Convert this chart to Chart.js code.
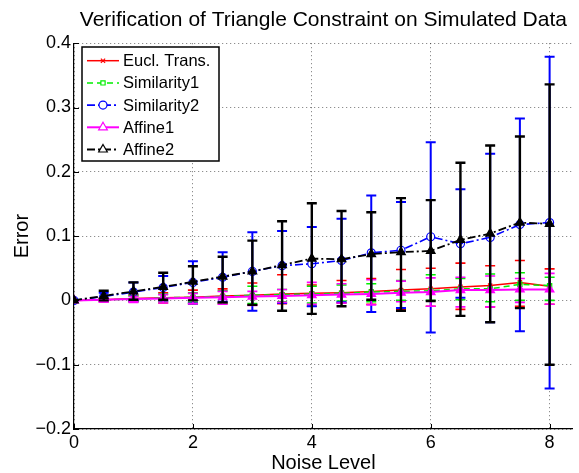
<!DOCTYPE html>
<html>
<head>
<meta charset="utf-8">
<script src="https://cdn.jsdelivr.net/npm/chart.js@4/dist/chart.umd.min.js"></script>
<style>
  html, body { margin: 0; padding: 0; background: #fff; }
</style>
</head>
<body>
<canvas id="chart" width="579" height="473"></canvas>
<script>
// Noise levels on the x axis
const noiseLevels = [0, 0.5, 1, 1.5, 2, 2.5, 3, 3.5, 4, 4.5, 5, 5.5, 6, 6.5, 7, 7.5, 8];

// Eucl. Trans. (mean, lower end of bar, upper end of bar)
const euclMean = [0, 0.001, 0.003, 0.004, 0.005, 0.007, 0.008, 0.010, 0.011, 0.012, 0.014, 0.016, 0.018, 0.021, 0.023, 0.028, 0.022];
const euclLow  = [0, -0.002, -0.002, -0.004, -0.005, -0.005, -0.007, -0.005, -0.009, -0.004, -0.006, -0.014, -0.009, -0.014, -0.010, -0.009, -0.006];
const euclHigh = [0, 0.004, 0.008, 0.012, 0.016, 0.018, 0.027, 0.040, 0.024, 0.031, 0.034, 0.048, 0.050, 0.058, 0.054, 0.062, 0.049];

// Similarity1
const sim1Mean = [0, 0.001, 0.002, 0.004, 0.005, 0.006, 0.008, 0.009, 0.010, 0.011, 0.013, 0.014, 0.015, 0.018, 0.018, 0.025, 0.023];
const sim1Low  = [0, -0.001, -0.002, -0.002, -0.003, -0.004, -0.005, -0.002, -0.004, -0.001, -0.002, 0.000, 0.000, 0.001, -0.002, 0.000, 0.000];
const sim1High = [0, 0.003, 0.007, 0.010, 0.012, 0.015, 0.022, 0.017, 0.022, 0.024, 0.026, 0.031, 0.040, 0.034, 0.041, 0.043, 0.036];

// Similarity2
const sim2Mean = [0, 0.006, 0.013, 0.020, 0.028, 0.036, 0.045, 0.054, 0.057, 0.062, 0.074, 0.078, 0.099, 0.088, 0.098, 0.118, 0.121];
const sim2Low  = [0, 0.000, -0.001, 0.000, -0.005, -0.002, -0.016, -0.004, -0.009, -0.003, -0.018, -0.012, -0.050, 0.004, -0.034, -0.048, -0.137];
const sim2High = [0, 0.012, 0.028, 0.038, 0.061, 0.075, 0.106, 0.108, 0.114, 0.127, 0.163, 0.153, 0.246, 0.173, 0.228, 0.283, 0.379];

// Affine1
const aff1Mean = [0, 0.001, 0.002, 0.003, 0.004, 0.005, 0.006, 0.007, 0.008, 0.009, 0.010, 0.012, 0.013, 0.016, 0.016, 0.017, 0.017];
const aff1Low  = [0, -0.002, -0.003, -0.004, -0.005, -0.006, -0.008, -0.003, -0.006, -0.004, -0.007, -0.002, -0.009, -0.010, -0.010, -0.003, -0.006];
const aff1High = [0, 0.003, 0.006, 0.009, 0.011, 0.014, 0.014, 0.017, 0.028, 0.026, 0.032, 0.030, 0.035, 0.036, 0.038, 0.034, 0.042];

// Affine2
const aff2Mean = [0, 0.007, 0.014, 0.021, 0.029, 0.037, 0.045, 0.055, 0.065, 0.064, 0.072, 0.075, 0.077, 0.094, 0.104, 0.121, 0.119];
const aff2Low  = [0, 0.000, 0.001, 0.001, 0.000, -0.003, -0.007, -0.016, -0.021, -0.009, 0.001, -0.016, -0.001, -0.024, -0.034, -0.012, -0.100];
const aff2High = [0, 0.015, 0.028, 0.043, 0.053, 0.068, 0.093, 0.123, 0.151, 0.139, 0.137, 0.159, 0.156, 0.214, 0.241, 0.255, 0.336];

const xTickValues = [0, 2, 4, 6, 8];
const yTickValues = [-0.2, -0.1, 0, 0.1, 0.2, 0.3, 0.4];

const FONT = '"Liberation Sans", Arial, Helvetica, sans-serif';
const DASH_DOT = [8, 3, 2, 3];

function points(values) {
    return noiseLevels.map((x, i) => ({x: x, y: values[i]}));
}

// Vertical error bars with caps, drawn just before each series' line
const errorBars = {
    id: 'errorBars',
    beforeDatasetDraw(chart, args) {
        const ds = chart.data.datasets[args.index];
        const y = chart.scales.y;
        const ctx = chart.ctx;
        const cap = 5;
        ctx.save();
        ctx.strokeStyle = ds.borderColor;
        ctx.lineWidth = ds.errWidth;
        ctx.setLineDash([]);
        args.meta.data.forEach((pt, i) => {
            const lo = y.getPixelForValue(ds.errLow[i]);
            const hi = y.getPixelForValue(ds.errHigh[i]);
            if (Math.abs(lo - hi) < 1) return;
            ctx.beginPath();
            ctx.moveTo(pt.x, lo);
            ctx.lineTo(pt.x, hi);
            ctx.moveTo(pt.x - cap, lo);
            ctx.lineTo(pt.x + cap, lo);
            ctx.moveTo(pt.x - cap, hi);
            ctx.lineTo(pt.x + cap, hi);
            ctx.stroke();
        });
        ctx.restore();
    }
};

// MATLAB style inward ticks
const innerTicks = {
    id: 'innerTicks',
    afterDraw(chart) {
        const {ctx, chartArea, scales} = chart;
        ctx.save();
        ctx.strokeStyle = '#000';
        ctx.lineWidth = 1;
        ctx.beginPath();
        yTickValues.forEach(v => {
            const py = Math.round(scales.y.getPixelForValue(v)) + 0.5;
            ctx.moveTo(chartArea.left, py);
            ctx.lineTo(chartArea.left + 5, py);
        });
        xTickValues.forEach(v => {
            const px = Math.round(scales.x.getPixelForValue(v)) + 0.5;
            ctx.moveTo(px, chartArea.bottom);
            ctx.lineTo(px, chartArea.bottom - 5);
        });
        ctx.stroke();
        ctx.restore();
    }
};

// Legend box with line sample and marker, like MATLAB
const legendBox = {
    id: 'legendBox',
    afterDraw(chart) {
        const ctx = chart.ctx;
        const left = 82, top = 47, w = 137, h = 114, rowH = 22.2;
        ctx.save();
        ctx.fillStyle = '#fff';
        ctx.fillRect(left, top, w, h);
        ctx.strokeStyle = '#000';
        ctx.lineWidth = 1.5;
        ctx.setLineDash([]);
        ctx.strokeRect(left, top, w, h);
        chart.data.datasets.forEach((ds, i) => {
            const y = top + 13.7 + i * rowH;
            ctx.strokeStyle = ds.borderColor;
            ctx.lineWidth = ds.borderWidth;
            ctx.setLineDash(ds.borderDash || []);
            ctx.beginPath();
            ctx.moveTo(87, y);
            ctx.lineTo(119, y);
            ctx.stroke();
            ctx.setLineDash([]);
            ctx.fillStyle = '#fff';
            ctx.lineWidth = 1.2;
            Chart.helpers.drawPoint(ctx, {
                pointStyle: ds.pointStyle,
                radius: ds.pointRadius,
                rotation: 0,
                borderWidth: 1.2
            }, 103, y);
            ctx.fillStyle = '#000';
            ctx.font = '16.5px ' + FONT;
            ctx.textBaseline = 'middle';
            ctx.fillText(ds.label, 123, y + 1);
        });
        ctx.restore();
    }
};

function series(label, color, mean, low, high, opts) {
    return Object.assign({
        label: label,
        data: points(mean),
        errLow: low,
        errHigh: high,
        borderColor: color,
        borderWidth: 1.5,
        errWidth: 1.6,
        pointBorderColor: color,
        pointBackgroundColor: 'rgba(0,0,0,0)',
        pointBorderWidth: 1.2,
        tension: 0,
        fill: false
    }, opts);
}

new Chart(document.getElementById('chart'), {
    type: 'line',
    data: {
        datasets: [
            series('Eucl. Trans.', '#ff0000', euclMean, euclLow, euclHigh,
                {pointStyle: 'crossRot', pointRadius: 3, order: 5}),
            series('Similarity1', '#00ee00', sim1Mean, sim1Low, sim1High,
                {pointStyle: 'rect', pointRadius: 3, borderDash: [6, 4], order: 4}),
            series('Similarity2', '#0000ff', sim2Mean, sim2Low, sim2High,
                {pointStyle: 'circle', pointRadius: 4, borderDash: DASH_DOT, borderWidth: 1.6, errWidth: 2, order: 3}),
            series('Affine1', '#ff00ff', aff1Mean, aff1Low, aff1High,
                {pointStyle: 'triangle', pointRadius: 5, pointBackgroundColor: '#ff00ff', borderWidth: 2, order: 2}),
            series('Affine2', '#000000', aff2Mean, aff2Low, aff2High,
                {pointStyle: 'triangle', pointRadius: 5, pointBackgroundColor: '#000', borderDash: DASH_DOT, borderWidth: 1.8, errWidth: 2.4, order: 1})
        ]
    },
    options: {
        responsive: false,
        animation: false,
        devicePixelRatio: 1,
        events: [],
        layout: {padding: 0},
        plugins: {
            legend: {display: false},
            tooltip: {enabled: false},
            title: {
                display: true,
                text: 'Verification of Triangle Constraint on Simulated Data',
                color: '#000',
                fullSize: false,
                font: {family: FONT, size: 21, weight: 'normal', lineHeight: 1.2},
                padding: {top: 8, bottom: 10}
            }
        },
        scales: {
            x: {
                type: 'linear',
                min: 0,
                max: 8.39,
                afterBuildTicks: s => { s.ticks = xTickValues.map(v => ({value: v})); },
                afterFit: s => { s.height = 44; },
                ticks: {
                    color: '#000',
                    padding: 3,
                    maxRotation: 0,
                    font: {family: FONT, size: 18},
                    callback: v => String(v)
                },
                grid: {color: 'rgba(0,0,0,0.55)', lineWidth: 1, drawTicks: false},
                border: {display: true, color: '#000', width: 1.2, dash: [1, 3]},
                title: {
                    display: true,
                    text: 'Noise Level',
                    color: '#000',
                    font: {family: FONT, size: 20, lineHeight: 1},
                    padding: {top: 0, bottom: 0}
                }
            },
            y: {
                min: -0.2,
                max: 0.4,
                afterBuildTicks: s => { s.ticks = yTickValues.map(v => ({value: v})); },
                afterFit: s => { s.width = 74; },
                ticks: {
                    color: '#000',
                    padding: 3,
                    font: {family: FONT, size: 18},
                    callback: v => v < 0 ? '\u2212' + Math.abs(v).toFixed(1) : (v === 0 ? '0' : v.toFixed(1))
                },
                grid: {color: 'rgba(0,0,0,0.55)', lineWidth: 1, drawTicks: false},
                border: {display: true, color: '#000', width: 1.2, dash: [1, 3]},
                title: {
                    display: true,
                    text: 'Error',
                    color: '#000',
                    font: {family: FONT, size: 20, lineHeight: 1},
                    padding: {top: 12, bottom: 0}
                }
            }
        }
    },
    plugins: [errorBars, innerTicks, legendBox]
});
</script>
</body>
</html>
